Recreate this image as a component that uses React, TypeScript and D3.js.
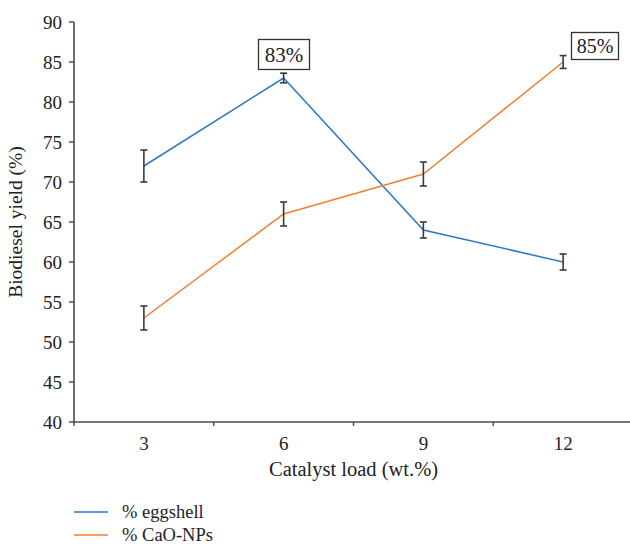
import React from 'react';
import * as d3 from 'd3';

const categories = ['3', '6', '9', '12'];
const eggshell = [72, 83, 64, 60];
const eggshellErr = [2, 0.6, 1, 1];
const cao = [53, 66, 71, 85];
const caoErr = [1.5, 1.5, 1.5, 0.8];
const yTicks = [40, 45, 50, 55, 60, 65, 70, 75, 80, 85, 90];

const width = 630;
const height = 546;
const font = "'Liberation Serif', 'DejaVu Serif', serif";
const axisColor = '#4a4a4a';
const blue = '#2f78c4';
const orange = '#f57f32';

const App: React.FC = () => {
  const x = d3.scaleBand<string>().domain(categories).range([74, 633]).padding(0);
  const y = d3.scaleLinear().domain([40, 90]).range([422, 22]);
  const cx = (c: string) => (x(c) || 0) + x.bandwidth() / 2;

  const line = d3
    .line<number>()
    .x((_, i) => cx(categories[i]))
    .y((d) => y(d));

  const series = [
    { name: '% eggshell', values: eggshell, err: eggshellErr, color: blue },
    { name: '% CaO-NPs', values: cao, err: caoErr, color: orange },
  ];

  const bounds = x.domain().map((c) => x(c) || 0).concat([x.range()[1]]);

  return (
    <svg
      width={width}
      height={height}
      style={{ position: 'absolute', left: 0, top: 0, background: '#fff', fontFamily: font }}
    >
      {/* y axis */}
      <line x1={74} x2={74} y1={y(90)} y2={y(40) + 1} stroke={axisColor} strokeWidth={1.6} />
      {yTicks.map((t) => (
        <g key={t}>
          <line x1={69} x2={74} y1={y(t)} y2={y(t)} stroke={axisColor} strokeWidth={1.4} />
          <text x={62} y={y(t)} dy="0.35em" textAnchor="end" fontSize={19} fill="#222">
            {t}
          </text>
        </g>
      ))}
      <text
        transform={`translate(22, ${(y(40) + y(90)) / 2}) rotate(-90)`}
        textAnchor="middle"
        fontSize={19.5}
        fill="#222"
      >
        Biodiesel yield (%)
      </text>

      {/* x axis */}
      <line x1={74} x2={633} y1={y(40)} y2={y(40)} stroke={axisColor} strokeWidth={1.6} />
      {bounds.map((b, i) => (
        <line key={i} x1={b} x2={b} y1={y(40)} y2={y(40) + 4} stroke={axisColor} strokeWidth={1.4} />
      ))}
      {categories.map((c) => (
        <text key={c} x={cx(c)} y={443} dy="0.35em" textAnchor="middle" fontSize={19} fill="#222">
          {c}
        </text>
      ))}
      <text x={(74 + 633) / 2} y={469} dy="0.35em" textAnchor="middle" fontSize={20.5} fill="#222">
        Catalyst load (wt.%)
      </text>

      {/* series */}
      {series.map((s) => (
        <g key={s.name}>
          <path d={line(s.values) || ''} fill="none" stroke={s.color} strokeWidth={1.5} />
          {s.values.map((v, i) => {
            const px = cx(categories[i]);
            const top = y(v + s.err[i]);
            const bot = y(v - s.err[i]);
            return (
              <g key={i} stroke="#3a3a3a" strokeWidth={1.6}>
                <line x1={px} x2={px} y1={top} y2={bot} />
                <line x1={px - 3.5} x2={px + 3.5} y1={top} y2={top} />
                <line x1={px - 3.5} x2={px + 3.5} y1={bot} y2={bot} />
              </g>
            );
          })}
        </g>
      ))}

      {/* annotations */}
      <rect x={258.5} y={39.5} width={51} height={30} fill="#fff" stroke="#333" strokeWidth={1.3} />
      <text x={284} y={55} dy="0.35em" textAnchor="middle" fontSize={21} fill="#222">
        83%
      </text>
      <rect x={571.5} y={32.5} width={47} height={27} fill="#fff" stroke="#333" strokeWidth={1.3} />
      <text x={595} y={46} dy="0.35em" textAnchor="middle" fontSize={20} fill="#222">
        85%
      </text>

      {/* legend */}
      {series.map((s, i) => (
        <g key={s.name} transform={`translate(0, ${512 + i * 23})`}>
          <line x1={74} x2={108} y1={0} y2={0} stroke={s.color} strokeWidth={1.5} />
          <text x={122} y={0} dy="0.33em" fontSize={18.5} fill="#222">
            {s.name}
          </text>
        </g>
      ))}
    </svg>
  );
};

export default App;
